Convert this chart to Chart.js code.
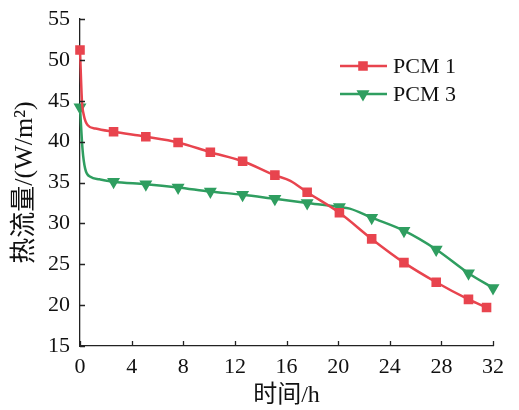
<!DOCTYPE html>
<html>
<head>
<meta charset="utf-8">
<script src="https://cdn.jsdelivr.net/npm/chart.js@4"></script>
<style>
  body { margin: 0; background: #fff; }
</style>
</head>
<body>
<canvas id="heat" width="519" height="410"></canvas>
<script>
// 时间 (h) and heat flux (W/m2)
var times1 = [0, 0.15, 0.3, 0.6, 1.2, 2.6, 5.1, 7.6, 10.1, 12.6, 15.1, 16.3, 17.6, 20.1, 22.6, 25.1, 27.6, 30.1, 31.5];
var pcm1   = [51.2, 45.0, 43.2, 42.0, 41.6, 41.2, 40.6, 39.9, 38.7, 37.6, 35.9, 35.2, 33.8, 31.3, 28.1, 25.2, 22.8, 20.7, 19.7];
var marks1 = [0, 5, 6, 7, 8, 9, 10, 12, 13, 14, 15, 16, 17, 18];

var times3 = [0, 0.2, 0.4, 0.8, 1.5, 2.6, 5.1, 7.6, 10.1, 12.6, 15.1, 17.6, 20.1, 20.9, 22.6, 25.1, 27.6, 30.1, 32];
var pcm3   = [44.2, 39.0, 36.7, 35.7, 35.4, 35.1, 34.8, 34.4, 33.9, 33.5, 33.0, 32.5, 32.0, 31.8, 30.7, 29.1, 26.8, 23.9, 22.1];
var marks3 = [0, 5, 6, 7, 8, 9, 10, 11, 12, 14, 15, 16, 17, 18];

var seriesNames = ["PCM 1", "PCM 3"];
var xTicks = [0, 4, 8, 12, 16, 20, 24, 28, 32];
var yTicks = [15, 20, 25, 30, 35, 40, 45, 50, 55];

var red = "#e8444e";
var green = "#2f9e60";
var serif = "'Liberation Serif', 'Noto Sans CJK SC', serif";

function pts(xs, ys) {
  return xs.map(function (x, i) { return { x: x, y: ys[i] }; });
}

// ticks pointing into the plot, like the original figure
var inTicks = {
  id: "inTicks",
  afterDraw: function (chart) {
    var ctx = chart.ctx, a = chart.chartArea;
    var xs = chart.scales.x, ys = chart.scales.y;
    ctx.save();
    ctx.strokeStyle = "#222";
    ctx.lineWidth = 1.3;
    ctx.beginPath();
    xTicks.forEach(function (v) {
      var p = Math.round(xs.getPixelForValue(v)) + 0.5;
      ctx.moveTo(p, a.bottom);
      ctx.lineTo(p, a.bottom - 5);
    });
    yTicks.forEach(function (v) {
      var p = Math.round(ys.getPixelForValue(v)) + 0.5;
      ctx.moveTo(a.left, p);
      ctx.lineTo(a.left + 5, p);
    });
    ctx.stroke();
    ctx.restore();
  }
};

// legend with line + marker
var lineLegend = {
  id: "lineLegend",
  afterDraw: function (chart) {
    var ctx = chart.ctx;
    ctx.save();
    chart.data.datasets.forEach(function (ds, i) {
      var y = 66 + i * 28;
      ctx.strokeStyle = ds.borderColor;
      ctx.lineWidth = 2.5;
      ctx.beginPath();
      ctx.moveTo(340, y);
      ctx.lineTo(387, y);
      ctx.stroke();
      Chart.helpers.drawPoint(ctx, {
        pointStyle: ds.pointStyle,
        rotation: ds.pointRotation || 0,
        radius: ds.pointRadius.legend,
        borderWidth: 1
      }, 363, y);
      ctx.fillStyle = ds.borderColor;
      ctx.fill();
      ctx.fillStyle = "#111";
      ctx.font = "22px " + serif;
      ctx.textBaseline = "middle";
      ctx.fillText(ds.label, 393, y + 1);
    });
    ctx.restore();
  }
};

function radiusFor(marks, r) {
  var f = function (c) { return marks.indexOf(c.dataIndex) >= 0 ? r : 0; };
  f.legend = r;
  return f;
}

var r1 = radiusFor(marks1, 5);
var r3 = radiusFor(marks3, 5);

new Chart(document.getElementById("heat"), {
  type: "line",
  data: {
    datasets: [{
      label: seriesNames[0],
      data: pts(times1, pcm1),
      borderColor: red,
      backgroundColor: red,
      borderWidth: 2.5,
      pointStyle: "rect",
      pointRadius: r1,
      pointHoverRadius: r1,
      cubicInterpolationMode: "monotone",
      clip: false
    }, {
      label: seriesNames[1],
      data: pts(times3, pcm3),
      borderColor: green,
      backgroundColor: green,
      borderWidth: 2.5,
      pointStyle: "triangle",
      pointRotation: 180,
      pointRadius: r3,
      pointHoverRadius: r3,
      cubicInterpolationMode: "monotone",
      clip: false
    }]
  },
  options: {
    responsive: false,
    animation: false,
    devicePixelRatio: 1,
    layout: { padding: { top: 19, right: 26, left: 0, bottom: 0 } },
    plugins: {
      legend: { display: false },
      tooltip: { enabled: false }
    },
    scales: {
      x: {
        type: "linear",
        min: 0,
        max: 32,
        afterBuildTicks: function (s) { s.ticks = xTicks.map(function (v) { return { value: v }; }); },
        afterFit: function (s) { s.height = 64; },
        grid: { display: false, drawTicks: false },
        border: { display: true, color: "#222", width: 1.3 },
        ticks: { color: "#111", padding: 8, maxRotation: 0, font: { family: serif, size: 22 } },
        title: { display: true, text: "时间/h", color: "#111", padding: { top: 0, bottom: 0 }, font: { family: serif, size: 24 } }
      },
      y: {
        min: 15,
        max: 55,
        afterBuildTicks: function (s) { s.ticks = yTicks.map(function (v) { return { value: v }; }); },
        afterFit: function (s) { s.width = 80; s.paddingTop = 0; s.paddingBottom = 0; },
        grid: { display: false, drawTicks: false },
        border: { display: true, color: "#222", width: 1.3 },
        ticks: { color: "#111", padding: 10, font: { family: serif, size: 22 } },
        title: { display: true, text: "热流量/(W/m²)", color: "#111", padding: { top: 10, bottom: 0 }, font: { family: serif, size: 26 } }
      }
    }
  },
  plugins: [inTicks, lineLegend]
});
</script>
</body>
</html>
